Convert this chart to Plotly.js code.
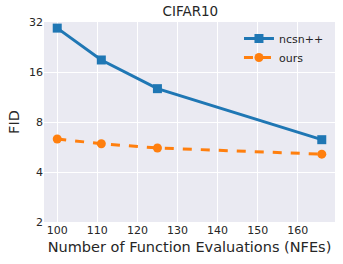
<!DOCTYPE html>
<html><head><meta charset="utf-8">
<script src="https://cdn.plot.ly/plotly-3.0.1.min.js"></script>
<style>html,body{margin:0;padding:0;background:#fff;}#plot{width:343px;height:264px;}</style>
</head><body><div id="plot"></div>
<script>
const nfes = [100, 111, 125, 166];
const ncsnFID = [29.4, 18.9, 12.7, 6.26];
const oursFID = [6.32, 5.92, 5.58, 5.12];
const yTicks = [2, 4, 8, 16, 32];
const xTicks = [100, 110, 120, 130, 140, 150, 160];
const F = 'DejaVu Sans, sans-serif';
const traces = [
  {x: nfes, y: ncsnFID, name: 'ncsn++', mode: 'lines+markers', type: 'scatter',
   line: {color: '#1f77b4', width: 3}, marker: {symbol: 'square', size: 9, color: '#1f77b4'}},
  {x: nfes, y: oursFID, name: 'ours', mode: 'lines+markers', type: 'scatter',
   line: {color: '#ff7f0e', width: 3, dash: 'dash'}, marker: {symbol: 'circle', size: 9, color: '#ff7f0e'}}
];
const layout = {
  width: 343, height: 264,
  margin: {l: 44, r: 8, t: 22, b: 42},
  paper_bgcolor: '#ffffff', plot_bgcolor: '#EAEAF2',
  font: {family: F, color: '#262626', size: 11},
  title: {text: 'CIFAR10', font: {family: F, size: 13.5, color: '#262626'}, x: 0.555, xanchor: 'center', y: 0.975, yanchor: 'top'},
  xaxis: {range: [96.7, 169.3], tickvals: xTicks, ticktext: xTicks.map(String), showgrid: true, gridcolor: '#ffffff', gridwidth: 1,
          zeroline: false, showline: false, ticks: '', tickfont: {size: 11, family: F, color: '#262626'},
          title: {text: 'Number of Function Evaluations (NFEs)', font: {size: 14.5, family: F, color: '#262626'}, standoff: 5}},
  yaxis: {type: 'log', range: [Math.log10(2), Math.log10(32)], tickvals: yTicks, ticktext: yTicks.map(String),
          showgrid: true, gridcolor: '#ffffff', gridwidth: 1, zeroline: false, showline: false, ticks: '',
          tickfont: {size: 11, family: F, color: '#262626'},
          title: {text: 'FID', font: {size: 14.5, family: F, color: '#262626'}, standoff: 5}},
  legend: {x: 0.67, y: 0.99, xanchor: 'left', yanchor: 'top', bgcolor: 'rgba(0,0,0,0)', font: {size: 11, family: F, color: '#262626'}, tracegroupgap: 0},
  showlegend: true
};
Plotly.newPlot('plot', traces, layout, {displayModeBar: false, staticPlot: true});
</script></body></html>
